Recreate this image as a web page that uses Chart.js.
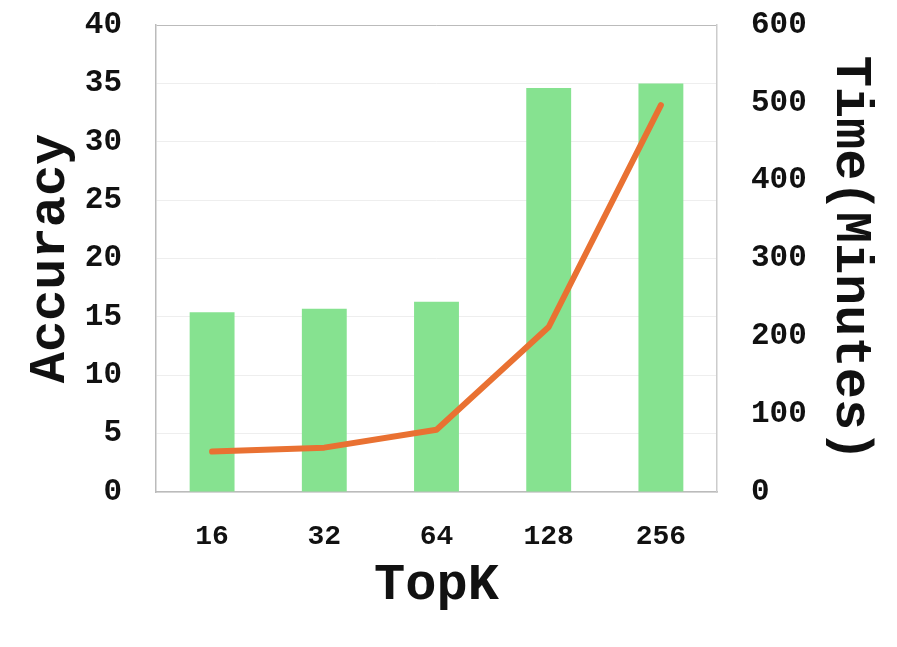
<!DOCTYPE html>
<html lang="en">
<head>
    <meta charset="UTF-8">
    <title>TopK Accuracy vs Time</title>
    <script src="https://cdn.jsdelivr.net/npm/chart.js"></script>
    <style>
        body { margin: 0; background: white; }
        #wrap { width: 897px; height: 647px; }
    </style>
</head>
<body>
    <div id="wrap"><canvas id="topkChart"></canvas></div>

    <script>
        // values
        const topK = ['16', '32', '64', '128', '256'];
        const accuracy = [15.4, 15.7, 16.3, 34.6, 35.0];
        const timeMinutes = [52, 57, 80, 212, 497];

        const fontFamily = '"Liberation Mono", "Courier New", monospace';

        const ctx = document.getElementById('topkChart').getContext('2d');
        new Chart(ctx, {
            data: {
                labels: topK,
                datasets: [
                    {
                        type: 'line',
                        label: 'Time',
                        data: timeMinutes,
                        yAxisID: 'yTime',
                        borderColor: '#e97132',
                        borderWidth: 6,
                        borderCapStyle: 'round',
                        borderJoinStyle: 'round',
                        pointRadius: 0,
                        tension: 0,
                        order: 1
                    },
                    {
                        type: 'bar',
                        label: 'Accuracy',
                        data: accuracy,
                        yAxisID: 'yAcc',
                        backgroundColor: '#86e290',
                        categoryPercentage: 0.8,
                        barPercentage: 0.5,
                        order: 2
                    }
                ]
            },
            options: {
                responsive: true,
                maintainAspectRatio: false,
                animation: false,
                layout: { padding: { top: 25 } },
                plugins: {
                    legend: { display: false },
                    tooltip: { enabled: false }
                },
                scales: {
                    x: {
                        grid: { display: false, drawTicks: false },
                        border: { color: '#bbbbbb', width: 1.5 },
                        ticks: {
                            color: '#111',
                            padding: 28,
                            font: { family: fontFamily, size: 28, weight: 'bold' }
                        },
                        title: {
                            display: true,
                            text: 'TopK',
                            color: '#111',
                            padding: { top: 0, bottom: 30 },
                            font: { family: fontFamily, size: 52, weight: 'bold' }
                        },
                        afterFit: (scale) => { scale.height = 155; }
                    },
                    yAcc: {
                        position: 'left',
                        min: 0,
                        max: 40,
                        ticks: {
                            stepSize: 5,
                            color: '#111',
                            padding: 0,
                            font: { family: fontFamily, size: 31, weight: 'bold' }
                        },
                        grid: {
                            // invisible tick marks keep the labels away from the plot
                            tickLength: 34,
                            tickColor: 'rgba(0,0,0,0)',
                            color: (c) => c.tick && c.tick.value === 40 ? '#bbbbbb' : '#eeeeee'
                        },
                        border: { color: '#bbbbbb', width: 1.5 },
                        title: {
                            display: true,
                            text: 'Accuracy',
                            color: '#111',
                            padding: { top: 20, bottom: 0 },
                            font: { family: fontFamily, size: 52, weight: 'bold' }
                        },
                        afterFit: (scale) => { scale.width = 156; }
                    },
                    yTime: {
                        position: 'right',
                        min: 0,
                        max: 600,
                        ticks: {
                            stepSize: 100,
                            color: '#111',
                            padding: 0,
                            font: { family: fontFamily, size: 31, weight: 'bold' }
                        },
                        grid: {
                            drawOnChartArea: false,
                            tickLength: 34,
                            tickColor: 'rgba(0,0,0,0)'
                        },
                        border: { color: '#cccccc', width: 1.5 },
                        title: {
                            display: true,
                            text: 'Time(Minutes)',
                            color: '#111',
                            padding: { top: 16, bottom: 0 },
                            font: { family: fontFamily, size: 52, weight: 'bold' }
                        },
                        afterFit: (scale) => { scale.width = 180; }
                    }
                }
            }
        });
    </script>
</body>
</html>
